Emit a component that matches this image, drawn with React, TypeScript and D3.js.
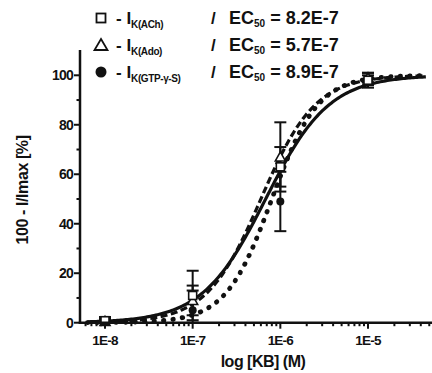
import React, { useEffect, useRef } from 'react';
import * as d3 from 'd3';

// concentrations (M)
const conc = [1e-8, 1e-7, 1e-6, 1e-5];

// mean responses and errors per series
const achMean = [0.8, 11, 63, 98];
const achErr = [1.5, 10, 8, 3];
const adoMean = [0.5, 9, 67, 99];
const adoErr = [1, 6, 14, 2];
const gtpMean = [0.5, 5, 49, 98];
const gtpErr = [1, 8, 12, 2];

// fitted Hill curves, as they appear on the plot (solid, dashed, dotted)
const curveEc50 = [6.8e-7, 6.0e-7, 8.0e-7];
const curveHill = [1.2, 1.4, 1.65];
const ec50Labels = ['8.2E-7', '5.7E-7', '8.9E-7'];
const legendNames = ['K(ACh)', 'K(Ado)', 'K(GTP-γ-S)'];

const yTicks = [0, 20, 40, 60, 80, 100];
const xTicks = [1e-8, 1e-7, 1e-6, 1e-5];
const xTickLabels = ['1E-8', '1E-7', '1E-6', '1E-5'];

const FONT = 'Liberation Sans, Arial, sans-serif';

const App = () => {
  const svgRef = useRef<SVGSVGElement>(null);

  useEffect(() => {
    const svg = d3.select(svgRef.current);
    svg.selectAll('*').remove();

    // 1E-8 at x=105, 1E-5 at x=368
    const x0 = d3.scaleLog().domain([1e-8, 1e-5]).range([105, 368]);
    const x = d3.scaleLog().domain([x0.invert(80), x0.invert(432)]).range([80, 432]);
    const y = d3.scaleLinear().domain([0, 100]).range([322.7, 75.3]);

    const ink = '#111';

    // curves
    const styles = [
      { dash: null, width: 3.2, cap: 'butt' },
      { dash: '7,3.5', width: 3.2, cap: 'butt' },
      { dash: '0.5,9', width: 4.8, cap: 'round' },
    ];
    const logPts = d3.range(-8.2, -4.33, 0.02);

    curveEc50.forEach((ec, i) => {
      const pts = logPts.map(l => {
        const r = Math.pow(Math.pow(10, l) / ec, curveHill[i]);
        return [x(Math.pow(10, l)), y(100 * r / (1 + r))] as [number, number];
      });
      const p = svg.append('path')
        .attr('d', d3.line()(pts))
        .attr('fill', 'none')
        .attr('stroke', ink)
        .attr('stroke-width', styles[i].width)
        .attr('stroke-linecap', styles[i].cap);
      if (styles[i].dash) p.attr('stroke-dasharray', styles[i].dash);
    });

    // error bars
    const drawErr = (mean: number[], err: number[]) => {
      conc.forEach((c, i) => {
        const cx = x(c);
        const top = y(mean[i] + err[i]);
        const bot = y(Math.max(0, mean[i] - err[i]));
        svg.append('line').attr('x1', cx).attr('x2', cx).attr('y1', top).attr('y2', bot)
          .attr('stroke', ink).attr('stroke-width', 2);
        [top, bot].forEach(v => {
          svg.append('line').attr('x1', cx - 6).attr('x2', cx + 6).attr('y1', v).attr('y2', v)
            .attr('stroke', ink).attr('stroke-width', 2);
        });
      });
    };
    drawErr(achMean, achErr);
    drawErr(adoMean, adoErr);
    drawErr(gtpMean, gtpErr);

    // markers
    conc.forEach((c, i) => {
      svg.append('circle').attr('cx', x(c)).attr('cy', y(gtpMean[i])).attr('r', 4)
        .attr('fill', ink);
      const ty = y(adoMean[i]);
      svg.append('path')
        .attr('d', `M${x(c)},${ty - 5} L${x(c) + 5},${ty + 4} L${x(c) - 5},${ty + 4} Z`)
        .attr('fill', '#fff').attr('stroke', ink).attr('stroke-width', 1.6);
      svg.append('rect').attr('x', x(c) - 4).attr('y', y(achMean[i]) - 4)
        .attr('width', 8).attr('height', 8)
        .attr('fill', '#fff').attr('stroke', ink).attr('stroke-width', 1.6);
    });

    // y axis
    const yAxisX = 80;
    svg.append('line').attr('x1', yAxisX).attr('x2', yAxisX).attr('y1', 50).attr('y2', 324)
      .attr('stroke', ink).attr('stroke-width', 2.5);
    d3.range(0, 110, 10).forEach(v => {
      const major = v % 20 === 0;
      svg.append('line').attr('x1', yAxisX - (major ? 6 : 3.5)).attr('x2', yAxisX)
        .attr('y1', y(v)).attr('y2', y(v))
        .attr('stroke', ink).attr('stroke-width', 2);
    });
    yTicks.forEach(v => {
      svg.append('text').attr('x', yAxisX - 7).attr('y', y(v) + 5)
        .attr('text-anchor', 'end').attr('font-family', FONT).attr('font-weight', 'bold')
        .attr('font-size', 14).attr('fill', ink).attr('letter-spacing', -0.8)
        .text(v);
    });

    // x axis
    const xAxisY = 322.7;
    svg.append('line').attr('x1', 78.8).attr('x2', 432).attr('y1', xAxisY).attr('y2', xAxisY)
      .attr('stroke', ink).attr('stroke-width', 2.5);
    const minor: number[] = [];
    for (let e = -9; e <= -5; e++) {
      for (let k = 1; k <= 9; k++) minor.push(k * Math.pow(10, e));
    }
    minor.filter(v => x(v) >= 80 && x(v) <= 432).forEach(v => {
      const major = xTicks.some(t => Math.abs(t - v) / t < 1e-6);
      svg.append('line').attr('x1', x(v)).attr('x2', x(v))
        .attr('y1', xAxisY).attr('y2', xAxisY + (major ? 6 : 3.5))
        .attr('stroke', ink).attr('stroke-width', 2);
    });
    xTicks.forEach((t, i) => {
      svg.append('text').attr('x', x(t)).attr('y', 345)
        .attr('text-anchor', 'middle').attr('font-family', FONT).attr('font-weight', 'bold')
        .attr('font-size', 13.5).attr('fill', ink).attr('letter-spacing', -0.8)
        .text(xTickLabels[i]);
    });

    // axis titles
    svg.append('text').attr('x', 263).attr('y', 367)
      .attr('text-anchor', 'middle').attr('font-family', FONT).attr('font-weight', 'bold')
      .attr('font-size', 16).attr('fill', ink).attr('letter-spacing', -0.5)
      .text('log [KB] (M)');
    svg.append('text')
      .attr('transform', 'translate(28,190) rotate(-90)')
      .attr('text-anchor', 'middle').attr('font-family', FONT).attr('font-weight', 'bold')
      .attr('font-size', 16).attr('fill', ink).attr('letter-spacing', -0.4)
      .text('100 - I/Imax [%]');

    // legend
    const rowsY = [24, 51, 78];
    rowsY.forEach((ry, i) => {
      const mx = 101;
      const my = ry - 6;
      if (i === 0) {
        svg.append('rect').attr('x', mx - 4.5).attr('y', my - 4.5).attr('width', 9).attr('height', 9)
          .attr('fill', '#fff').attr('stroke', ink).attr('stroke-width', 1.8);
      } else if (i === 1) {
        svg.append('path').attr('d', `M${mx},${my - 6} L${mx + 6.5},${my + 5} L${mx - 6.5},${my + 5} Z`)
          .attr('fill', '#fff').attr('stroke', ink).attr('stroke-width', 1.8);
      } else {
        svg.append('circle').attr('cx', mx).attr('cy', my).attr('r', 5.5).attr('fill', ink);
      }
      const t = svg.append('text').attr('x', 116).attr('y', ry)
        .attr('font-family', FONT).attr('font-weight', 'bold').attr('font-size', 17)
        .attr('fill', ink);
      t.append('tspan').text('- I');
      t.append('tspan').attr('font-size', 10).attr('dy', 4).attr('letter-spacing', -0.4).text(legendNames[i]);
      svg.append('text').attr('x', 211).attr('y', ry)
        .attr('font-family', FONT).attr('font-weight', 'bold').attr('font-size', 17)
        .attr('fill', ink).text('/');
      const e = svg.append('text').attr('x', 229).attr('y', ry)
        .attr('font-family', FONT).attr('font-weight', 'bold').attr('font-size', 18)
        .attr('fill', ink);
      e.append('tspan').text('EC');
      e.append('tspan').attr('font-size', 10).attr('dy', 3).text('50');
      e.append('tspan').attr('dy', -3).text(` = ${ec50Labels[i]}`);
    });
  }, []);

  return (
    <svg
      ref={svgRef}
      width={432}
      height={373}
      style={{ display: 'block', position: 'absolute', left: 0, top: 0, background: '#fff' }}
    />
  );
};

export default App;
